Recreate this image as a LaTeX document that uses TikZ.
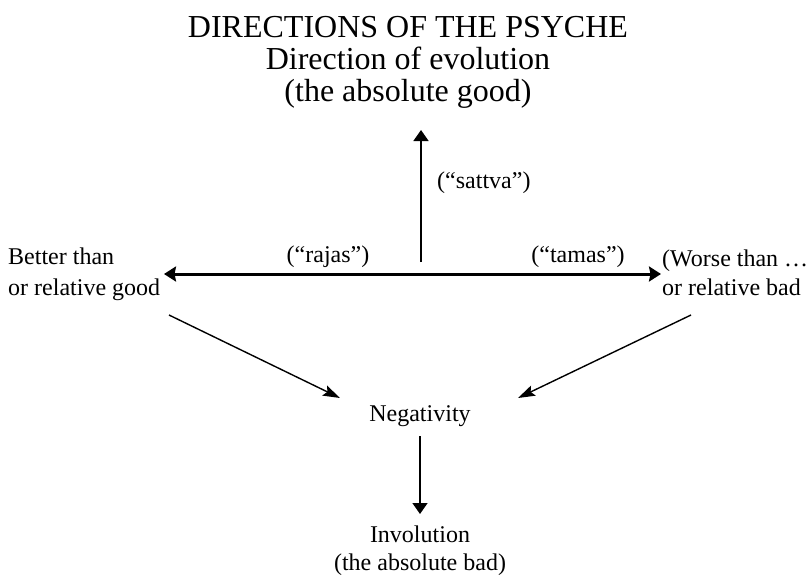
\documentclass[tikz,border=0pt]{standalone}
\usepackage{fontspec}
\setmainfont{Liberation Serif}
\usetikzlibrary{arrows.meta}
\tikzset{
  big/.style={font=\fontsize{32}{35}\selectfont, inner sep=0pt, anchor=base},
  small/.style={font=\fontsize{24}{28}\selectfont, inner sep=0pt},
  thinarrow/.style={line width=1.5pt, -{Triangle[width=15pt,length=11pt]}},
  thickarrow/.style={line width=3pt, {Stealth[width=15pt,length=12pt,inset=1.5pt]}-{Stealth[width=15pt,length=12pt,inset=1.5pt]}},
  diagarrow/.style={line width=1.4pt, -{Stealth[width=11pt,length=17pt,inset=3pt]}}
}
\begin{document}
\begin{tikzpicture}[x=1pt,y=-1pt]
\useasboundingbox (0,0) rectangle (808,574);
% title
\node[big] (t1) at (408,37) {DIRECTIONS OF THE PSYCHE};
\node[big] (t2) at (408,69) {Direction of evolution};
\node[big] (t3) at (408,101) {(the absolute good)};
% labels
\node[small, anchor=base west] (sattva) at (437,188) {(“sattva”)};
\node[small, anchor=base] (rajas) at (328,262) {(“rajas”)};
\node[small, anchor=base] (tamas) at (578,262) {(“tamas”)};
\node[small, anchor=base west] (b1) at (8,264) {Better than};
\node[small, anchor=base west] (b2) at (8,295) {or relative good};
\node[small, anchor=base west] (w1) at (662,266) {(Worse than …};
\node[small, anchor=base west] (w2) at (662,295) {or relative bad};
\node[small, anchor=base] (neg) at (420,421) {Negativity};
\node[small, anchor=base] (inv1) at (420,542) {Involution};
\node[small, anchor=base] (inv2) at (420,570) {(the absolute bad)};
% connector end points
\coordinate (upbot) at (421,262);
\coordinate (uptop) at (421,130);
\coordinate (hl) at (164,274);
\coordinate (hr) at (661,274);
\coordinate (ls) at (169,315);
\coordinate (le) at (340,398);
\coordinate (rs) at (691,315);
\coordinate (re) at (518,398);
\coordinate (ds) at (420,436);
\coordinate (de) at (420,514);
% connectors
\draw[thinarrow] (upbot) -- (uptop);
\draw[thickarrow] (hl) -- (hr);
\draw[diagarrow] (ls) -- (le);
\draw[diagarrow] (rs) -- (re);
\draw[thinarrow] (ds) -- (de);
\end{tikzpicture}
\end{document}
